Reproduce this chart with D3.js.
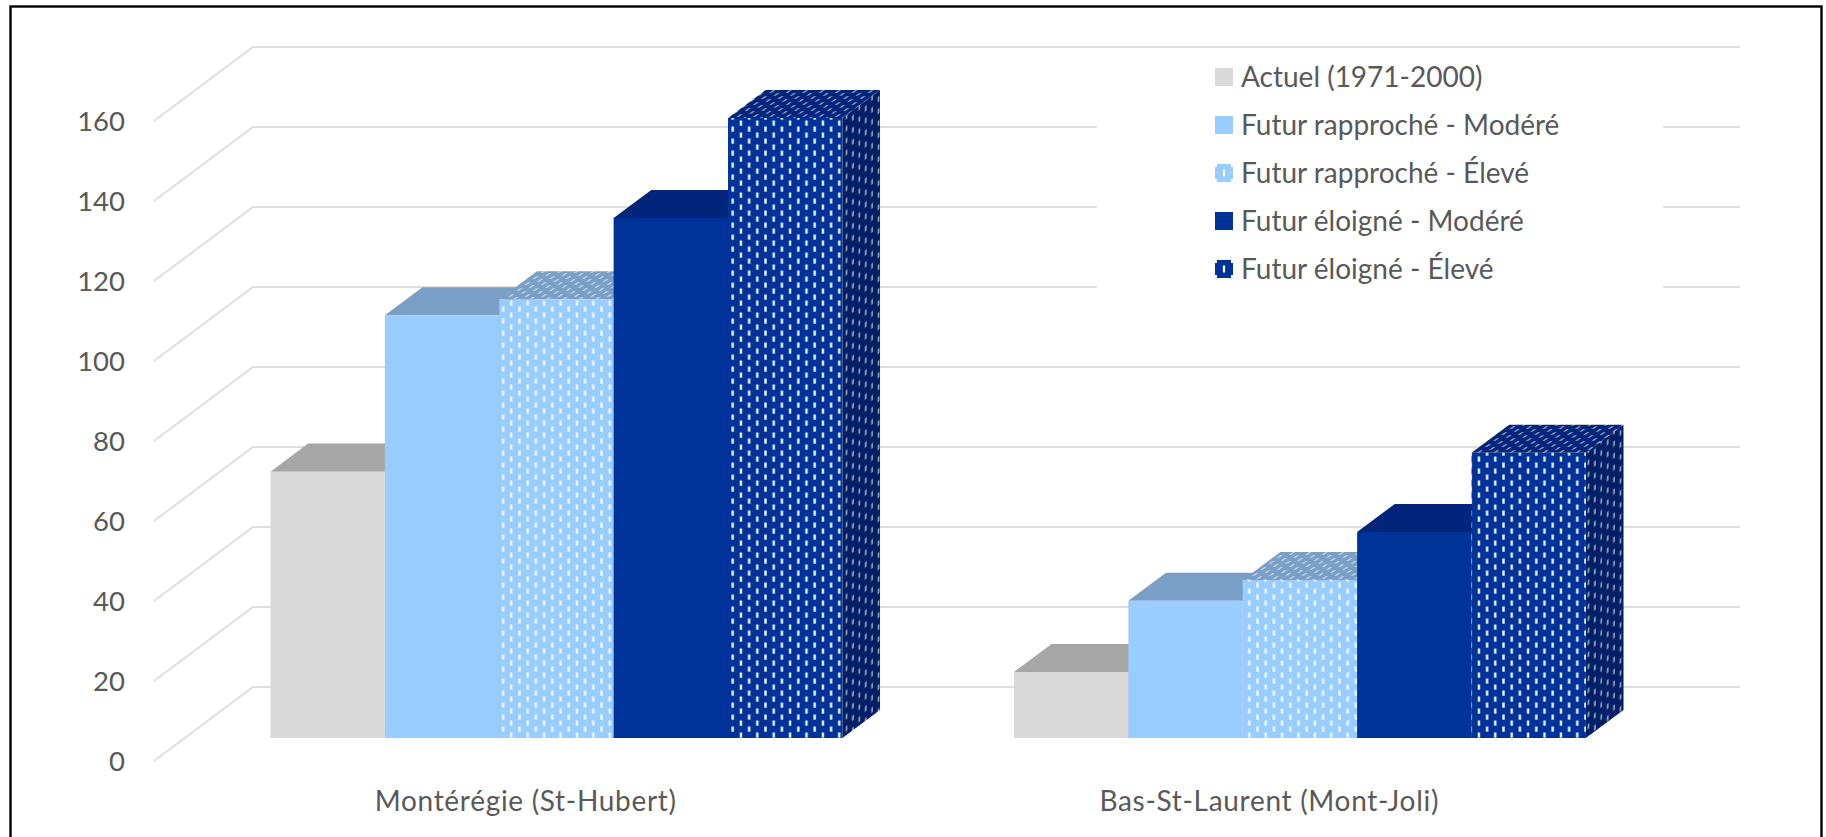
<!DOCTYPE html>
<html>
<head>
<meta charset="utf-8">
<script src="https://cdn.jsdelivr.net/npm/d3@7/dist/d3.min.js"></script>
<style>
  html, body { margin: 0; background: #fff; overflow: hidden; }
  svg { display: block; }
  text { font-family: Lato, "Open Sans", sans-serif; fill: #595959; }
</style>
</head>
<body>
<svg id="chart" width="1826" height="837"></svg>
<script>
// Chart data
const categories = ["Montérégie (St-Hubert)", "Bas-St-Laurent (Mont-Joli)"];
const seriesNames = ["Actuel (1971-2000)", "Futur rapproché - Modéré", "Futur rapproché - Élevé", "Futur éloigné - Modéré", "Futur éloigné - Élevé"];
const actuel = [66.6, 16.5];
const procheModere = [105.7, 34.3];
const procheEleve = [109.7, 39.5];
const eloigneModere = [130, 51.5];
const eloigneEleve = [155, 71.3];
const seriesValues = [actuel, procheModere, procheEleve, eloigneModere, eloigneEleve];
const yTicks = [0, 20, 40, 60, 80, 100, 120, 140, 160];

// Face colours per series
const frontColors = ["#D9D9D9", "#99CCFF", "#99CCFF", "#003399", "#003399"];
const topColors = ["#A6A6A6", "#7A9FC6", "#7A9FC6", "#00257A", "#00257A"];
const sideColors = ["#ADADAD", "#7A9FC6", "#7A9FC6", "#001F66", "#001F66"];
const dashed = [false, false, true, false, true];

const svg = d3.select("#chart");
const defs = svg.append("defs");

// Oblique projection: depth 0 is the front floor edge, depth 1 the back wall
const depthX = 99, depthY = 74;
const gapDepth = 0.31, barDepth = 0.38;
const x0 = d3.scaleBand().domain(categories).range([154, 1641]);
const x1 = d3.scaleBand().domain(seriesNames).range([0, x0.bandwidth()]).paddingOuter(0.75).paddingInner(0);
const y = d3.scaleLinear().domain([0, 160]).range([761, 121]);
const project = (px, value, depth) => [px + depth * depthX, y(value) - depth * depthY];

// Dashed fill: staggered short white strokes, sheared to follow each face
function dashPattern(id, background, dashColor, dashOpacity, transform) {
  const p = defs.append("pattern").attr("id", id)
    .attr("patternUnits", "userSpaceOnUse")
    .attr("width", 16.4).attr("height", 12);
  if (transform) p.attr("patternTransform", transform);
  p.append("rect").attr("width", 16.4).attr("height", 12).attr("fill", background);
  [[2.9, 0.5], [11.1, 6.5]].forEach(([cx, cy]) => {
    p.append("rect").attr("x", cx - 1.2).attr("y", cy).attr("width", 2.4).attr("height", 5.2)
      .attr("fill", dashColor).attr("fill-opacity", dashOpacity);
  });
}
const shearTop = "matrix(1,0,0.68,-0.5,0,0)";
const shearSide = "matrix(0.78,-0.57,0,1,0,0)";
[2, 4].forEach(i => {
  dashPattern(`front${i}`, frontColors[i], "#fff", i === 2 ? 0.85 : 0.95, null);
  dashPattern(`top${i}`, topColors[i], "#fff", 0.55, shearTop);
  dashPattern(`side${i}`, sideColors[i], "#fff", 0.55, shearSide);
  const s = defs.append("pattern").attr("id", `swatch${i}`)
    .attr("patternUnits", "userSpaceOnUse").attr("width", 18).attr("height", 18);
  s.append("rect").attr("width", 18).attr("height", 18).attr("fill", frontColors[i]);
  [[7.9, 5.5, 2.2, 7], [0, 0, 2, 3], [16, 0, 2, 3], [0, 15, 2, 3], [16, 15, 2, 3]].forEach(([a, b, w, h]) => {
    s.append("rect").attr("x", a).attr("y", b).attr("width", w).attr("height", h).attr("fill", "#fff");
  });
});

// Outer frame, open at the bottom edge of the page
svg.append("rect").attr("x", 10.5).attr("y", 6.5).attr("width", 1811).attr("height", 900)
  .attr("fill", "#fff").attr("stroke", "#000").attr("stroke-width", 2.4);

// Back wall and left wall gridlines
const grid = svg.append("g").attr("fill", "none").attr("stroke", "#DEDEDE").attr("stroke-width", 2);
grid.selectAll("polyline").data(yTicks).join("polyline")
  .attr("points", t => {
    const a = project(154, t, 0), b = project(154, t, 1), c = project(1641, t, 1);
    return [a, b, c].join(" ");
  });

// Legend background interrupts the gridlines
svg.append("rect").attr("x", 1097).attr("y", 56).attr("width", 566).attr("height", 244).attr("fill", "#fff");

// Bars: right side, top and front faces
const bars = svg.append("g");
categories.forEach((cat, c) => {
  seriesNames.forEach((name, s) => {
    const v = seriesValues[s][c];
    const left = x0(cat) + x1(name), right = left + x1.bandwidth();
    const path = pts => "M" + pts.join("L") + "Z";
    const fill = (kind, colors) => dashed[s] ? `url(#${kind}${s})` : colors[s];
    bars.append("path").attr("fill", fill("side", sideColors)).attr("d", path([
      project(right, 0, gapDepth), project(right, 0, gapDepth + barDepth),
      project(right, v, gapDepth + barDepth), project(right, v, gapDepth)]));
    bars.append("path").attr("fill", fill("top", topColors)).attr("d", path([
      project(left, v, gapDepth), project(left, v, gapDepth + barDepth),
      project(right, v, gapDepth + barDepth), project(right, v, gapDepth)]));
    bars.append("path").attr("fill", fill("front", frontColors)).attr("d", path([
      project(left, 0, gapDepth), project(left, v, gapDepth),
      project(right, v, gapDepth), project(right, 0, gapDepth)]));
  });
});

// Value axis labels
const yAxis = svg.append("g").attr("transform", "translate(125,0)")
  .call(d3.axisLeft(y).tickValues(yTicks).tickSize(0).tickPadding(0));
yAxis.select(".domain").remove();
yAxis.selectAll("text").attr("font-size", 27.5).attr("dy", "0.34em")
  .style("font-family", "Lato, sans-serif").attr("fill", "#595959");

// Category labels
svg.append("g").selectAll("text").data(categories).join("text")
  .attr("x", d => x0(d) + x0.bandwidth() / 2).attr("y", 811)
  .attr("text-anchor", "middle").attr("font-size", 28).attr("letter-spacing", 0.7).text(d => d);

// Legend
const legendY = d3.scalePoint().domain(seriesNames).range([77, 269]);
const legend = svg.append("g").selectAll("g").data(seriesNames).join("g")
  .attr("transform", d => `translate(1215,${legendY(d) - 9})`);
legend.append("rect").attr("width", 18).attr("height", 18)
  .attr("fill", (d, i) => dashed[i] ? `url(#swatch${i})` : frontColors[i]);
legend.append("text").attr("x", 26).attr("y", 19).attr("font-size", 28).text(d => d);
</script>
</body>
</html>
